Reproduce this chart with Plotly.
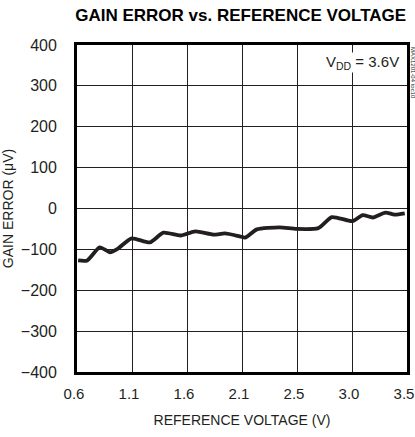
import numpy as np
import plotly.graph_objects as go

# reference voltage (V) and gain error (uV)
ref_voltage = [0.61, 0.69, 0.80, 0.89, 0.96, 1.08, 1.24, 1.36, 1.51, 1.64, 1.80,
               1.90, 2.03, 2.08, 2.18, 2.38, 2.53, 2.72, 2.84, 3.02, 3.11, 3.20,
               3.31, 3.39, 3.48]
gain_error = [-127, -127, -95, -107, -98, -73, -83, -59, -66, -56, -64,
              -61, -68, -71, -51, -46, -50, -48, -21, -31, -16, -22,
              -10, -15, -12]

x_tick_text = ["0.6", "1.1", "1.6", "2.1", "2.5", "3.0", "3.5"]
y_ticks = [-400, -300, -200, -100, 0, 100, 200, 300, 400]

FONT = "Liberation Sans Narrow, Liberation Sans, Arial, sans-serif"

fig = go.Figure()
fig.add_trace(go.Scatter(
    x=ref_voltage, y=gain_error, mode="lines",
    line=dict(color="#231f20", width=3.8, shape="spline", smoothing=0.6),
    showlegend=False,
))

fig.update_layout(
    width=415, height=437,
    margin=dict(l=77, r=8, t=45, b=65, autoexpand=False),
    paper_bgcolor="white", plot_bgcolor="white",
    font=dict(family=FONT, size=16, color="#231f20"),
    title=dict(text="GAIN ERROR vs. REFERENCE VOLTAGE", x=0.58, xanchor="center",
               y=0.966, yanchor="middle",
               font=dict(family="Liberation Sans, Arial, sans-serif", size=17,
                         weight=700, color="#000")),
)

fig.update_xaxes(
    range=[0.6, 3.5], automargin=False, ticklabeloverflow="allow",
    tickvals=list(np.linspace(0.6, 3.5, len(x_tick_text))), ticktext=x_tick_text,
    tickfont=dict(size=15), ticklabelshift=-3,
    showgrid=True, gridcolor="#231f20", gridwidth=1,
    showline=True, linecolor="#000", linewidth=2.8, mirror=True,
    ticks="", zeroline=False, ticklabelstandoff=6,
    title=dict(text="REFERENCE VOLTAGE (V)", standoff=15, font=dict(size=14)),
)
fig.update_yaxes(
    range=[-400, 400], tickvals=y_ticks, automargin=False,
    showgrid=True, gridcolor="#231f20", gridwidth=1,
    showline=True, linecolor="#000", linewidth=2.8, mirror=True,
    ticks="", zeroline=False, ticklabelstandoff=14,
    title=dict(text="GAIN ERROR (μV)", standoff=6, font=dict(size=14)),
)

fig.add_annotation(
    x=0.864, y=0.948, xref="paper", yref="paper", xanchor="center", yanchor="middle",
    text="V<sub>DD</sub> = 3.6V", showarrow=False, bgcolor="white", borderpad=0,
    font=dict(family=FONT, size=15, color="#231f20"),
)
fig.add_annotation(
    x=1.0, y=1.0, xref="paper", yref="paper", xanchor="left", yanchor="top",
    xshift=1, text="MAX1201-04 toc10", showarrow=False, textangle=90,
    font=dict(family=FONT, size=6, color="#231f20"),
)

# drop the page's default body margin so the figure sits at the window corner
fig.write_html("out.html", config={"displayModeBar": False},
               post_script="document.body.style.margin='0';")
